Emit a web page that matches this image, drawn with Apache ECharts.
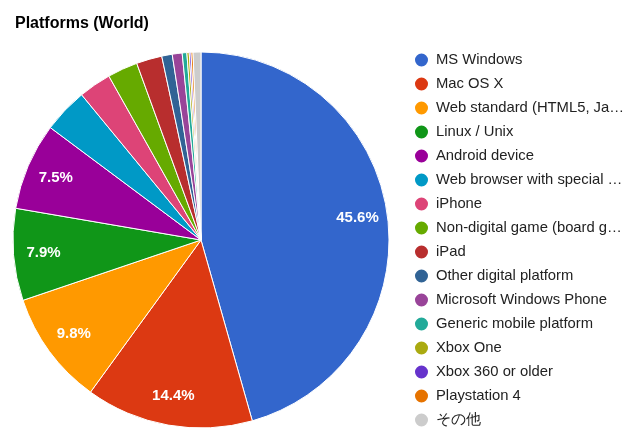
<!DOCTYPE html>
<html><head><meta charset="utf-8">
<script src="https://cdn.jsdelivr.net/npm/echarts@6/dist/echarts.min.js"></script>
<style>html,body{margin:0;padding:0;background:#fff}#c{width:640px;height:444px}</style>
</head><body><div id="c"></div>
<script>
var categories = ["MS Windows","Mac OS X","Web standard (HTML5, JavaScript, etc.)","Linux / Unix","Android device","Web browser with special plugin","iPhone","Non-digital game (board game, etc.)","iPad","Other digital platform","Microsoft Windows Phone","Generic mobile platform","Xbox One","Xbox 360 or older","Playstation 4","その他"];
var values = [45.6,14.4,9.8,7.9,7.5,3.85,2.8,2.6,2.2,0.9,0.85,0.4,0.2,0.15,0.17,0.68];
var colors = ["#3366cc","#dc3912","#ff9900","#109618","#990099","#0099c6","#dd4477","#66aa00","#b82e2e","#316395","#994499","#22aa99","#aaaa11","#6633cc","#e67300","#cccccc"];
var titleText = "Platforms (World)";

var data = categories.map(function(n,i){return {name:n, value:values[i], itemStyle:{color:colors[i]}};});
var labelData = categories.map(function(n,i){return {name:n, value:values[i]};});
var chart = echarts.init(document.getElementById('c'), null, {renderer:'canvas'});
chart.setOption({
  animation:false,
  title:{text:titleText, left:10, top:11, textStyle:{fontFamily:'Liberation Sans', fontSize:16, fontWeight:'bold', color:'#000'}},
  legend:{orient:'vertical', left:408, top:46.5, itemWidth:19, itemHeight:15, itemGap:7, icon:'circle', symbolKeepAspect:true,
    data:categories,
    textStyle:{fontFamily:'Liberation Sans', fontSize:14.8, lineHeight:17, color:'#222', width:191, overflow:'truncate', ellipsis:'…'}},
  series:[{
    type:'pie', center:[201,240], radius:[0,188], startAngle:90, clockwise:true,
    percentPrecision:1, data:data, label:{show:false}, labelLine:{show:false},
    itemStyle:{borderColor:'#fff', borderWidth:1}, emphasis:{disabled:true}
  },{
    type:'pie', center:[201,240], radius:[122,188], startAngle:90, clockwise:true,
    percentPrecision:1, data:labelData, silent:true, legendHoverLink:false,
    itemStyle:{color:'rgba(0,0,0,0)'}, labelLine:{show:false},
    label:{show:true, position:'inside', color:'#fff', fontFamily:'Liberation Sans', fontSize:15, fontWeight:'bold',
      formatter:function(p){return p.percent>=5 ? p.percent.toFixed(1)+'%' : '';}},
    emphasis:{disabled:true}
  }]
});
</script></body></html>
